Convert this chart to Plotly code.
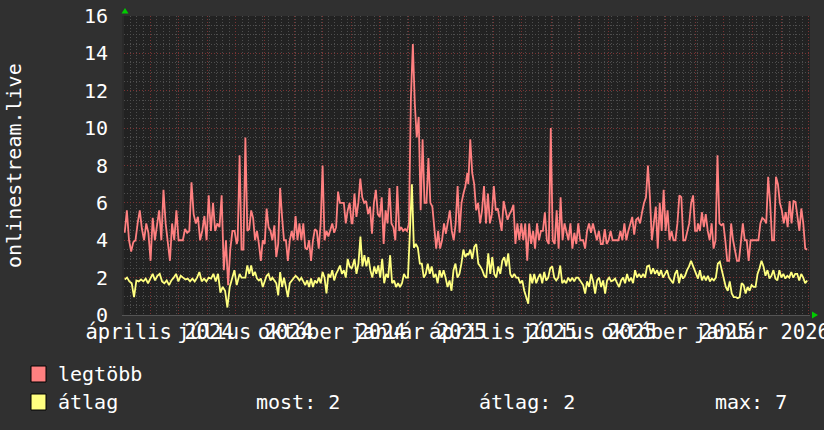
import plotly.graph_objects as go
import pandas as pd

# ---------------- data ----------------
SEGMENT_DATES = [
    ("2024-03-05", "2024-07-02"),
    ("2024-07-03", "2024-11-01"),
    ("2024-11-02", "2025-03-04"),
    ("2025-03-05", "2025-07-04"),
    ("2025-07-05", "2025-11-03"),
    ("2025-11-04", "2026-02-28"),
]

max_1 = [4.4, 5.6, 4.0, 3.4, 3.9, 4.0, 4.9, 5.6, 4.6, 4.0, 4.9, 4.4, 2.9, 5.2, 4.0, 4.7, 5.6, 4.0, 6.7, 4.9,
         3.8, 2.9, 4.9, 4.0, 5.6, 4.0, 4.0, 4.0, 4.6, 4.4, 4.5, 7.1, 5.4, 4.9, 5.25, 4.0, 4.5, 5.3, 4.0, 6.4,
         4.5, 6.0, 4.5, 4.9, 4.7, 6.4, 2.4, 4.0, 1.6, 3.5, 4.5, 4.5, 3.8]
max_2 = [4.0, 8.55, 3.5, 3.5, 9.5, 4.5, 4.6, 5.6, 5.2, 4.0, 4.5, 3.8, 2.9, 4.0, 3.8, 5.7, 4.7, 4.5, 4.0, 4.8,
         3.1, 3.8, 6.8, 5.25, 4.0, 4.0, 2.9, 4.0, 4.5, 4.0, 5.3, 4.0, 4.9, 4.0, 4.9, 3.6, 3.5, 4.0, 2.9, 4.0,
         4.6, 4.5, 3.55, 4.9, 8.0, 4.0, 4.5, 4.2, 4.5, 4.9, 4.4, 4.7, 6.6, 6.0, 6.0, 6.0, 4.9, 5.6, 6.0, 4.9]
max_3 = [4.9, 6.5, 5.25, 6.0, 7.3, 6.3, 6.0, 6.1, 5.4, 5.8, 4.35, 6.0, 6.7, 5.4, 5.25, 6.3, 3.8, 5.6, 4.9, 6.8,
         4.9, 4.7, 4.0, 6.9, 4.5, 4.7, 4.5, 4.6, 4.5, 4.9, 11.6, 14.5, 11.3, 9.5, 10.6, 5.6, 9.4, 6.0, 6.0, 8.4,
         6.0, 5.8, 4.7, 3.55, 4.5, 3.55, 4.0, 4.9, 4.35, 4.9, 5.6, 4.5, 4.0, 4.9, 6.9, 4.4, 6.0, 6.5, 6.9, 7.6]
max_4 = [7.0, 9.4, 7.6, 7.0, 5.6, 6.0, 4.9, 5.6, 6.9, 4.9, 6.5, 4.9, 5.4, 6.9, 5.6, 5.7, 5.1, 4.5, 6.1, 5.5,
         5.1, 5.4, 5.6, 5.9, 3.8, 4.9, 4.0, 4.9, 4.0, 4.9, 2.9, 4.9, 3.8, 4.5, 3.55, 4.9, 4.0, 4.5, 4.5, 5.5,
         4.0, 3.8, 10.0, 4.0, 3.8, 5.6, 3.55, 6.3, 4.0, 4.9, 4.35, 4.0, 4.9, 3.55, 4.4, 3.8, 4.9, 4.0, 4.0]
max_5 = [4.0, 3.55, 4.5, 4.9, 4.4, 4.9, 4.4, 4.0, 4.5, 3.8, 3.8, 4.6, 3.8, 4.0, 4.5, 4.0, 4.0, 4.0, 4.0, 4.5,
         4.0, 4.9, 4.0, 4.5, 4.9, 5.25, 4.3, 5.1, 5.2, 4.9, 5.5, 6.0, 6.3, 8.0, 6.3, 4.0, 4.9, 5.8, 3.55, 6.0,
         4.5, 6.7, 4.5, 5.6, 4.0, 4.5, 4.0, 4.0, 4.9, 6.4, 6.3, 4.0, 4.0, 4.5, 4.9, 6.0, 6.4, 4.5, 4.5]
max_6 = [4.9, 4.5, 5.5, 4.7, 5.4, 4.5, 4.0, 4.9, 3.55, 4.0, 8.55, 4.9, 4.8, 4.9, 4.0, 2.9, 2.9, 4.9, 4.0, 3.5,
         2.9, 2.9, 4.0, 4.9, 4.0, 4.0, 2.9, 4.0, 4.0, 4.0, 4.0, 4.0, 4.9, 5.2, 5.1, 4.9, 7.4, 6.0, 4.0, 4.0,
         7.4, 7.0, 6.0, 5.6, 4.9, 5.5, 4.7, 6.1, 4.9, 6.1, 6.05, 5.4, 4.5, 5.7, 4.9, 3.55, 3.5]

avg_1 = [1.9, 2.0, 1.8, 1.7, 0.96, 1.85, 1.8, 1.9, 1.8, 1.95, 1.7, 2.0, 2.2, 1.85, 2.1, 2.2, 1.8, 1.7, 1.85, 1.6,
         1.85, 2.0, 2.2, 1.8, 2.1, 2.0, 1.9, 1.95, 1.8, 1.95, 1.8, 2.0, 2.3, 1.8, 1.95, 1.8, 2.0, 1.95, 2.2, 1.8,
         2.2, 1.2, 1.5, 1.3, 0.4, 1.5, 2.0, 2.4, 1.6]
avg_2 = [1.85, 2.2, 2.0, 2.0, 2.0, 2.65, 2.2, 2.65, 2.1, 2.3, 1.95, 1.85, 1.95, 1.5, 1.85, 2.1, 2.2, 1.85, 2.0, 1.85,
         1.7, 1.05, 2.3, 1.5, 2.0, 1.5, 0.96, 1.7, 1.85, 2.0, 2.1, 2.0, 1.85, 2.0, 1.8, 1.6, 1.85, 1.5, 1.95, 1.5,
         1.85, 1.7, 2.0, 1.7, 2.3, 2.0, 1.15, 2.2, 2.0, 2.4, 1.85, 2.2, 2.4, 2.65, 2.2, 2.4, 2.0, 3.0, 2.6, 2.5]
avg_3 = [2.6, 3.0, 2.2, 2.75, 4.2, 2.6, 3.2, 2.6, 3.1, 2.4, 2.0, 2.6, 2.2, 2.65, 2.0, 3.0, 1.7, 2.2, 2.0, 3.2,
         1.7, 1.85, 1.5, 1.7, 1.5, 1.7, 2.2, 2.0, 2.0, 4.2, 7.0, 3.6, 3.8, 3.6, 2.75, 2.75, 2.0, 2.2, 2.75, 2.2,
         2.6, 2.0, 2.2, 1.7, 2.4, 2.0, 2.4, 2.0, 1.5, 1.85, 1.3, 2.4, 2.75, 2.0, 2.2, 2.75, 3.5, 3.1, 3.3]
avg_4 = [3.2, 3.5, 3.0, 3.65, 3.8, 2.75, 2.6, 2.4, 2.1, 2.0, 3.3, 2.2, 3.1, 2.2, 2.0, 2.6, 2.2, 2.9, 3.1, 2.6,
         3.3, 2.2, 2.0, 2.2, 2.0, 2.0, 1.7, 1.85, 1.3, 0.96, 0.6, 2.2, 1.7, 2.2, 1.7, 2.0, 2.2, 1.7, 2.3, 1.85,
         2.0, 2.5, 2.6, 2.0, 1.85, 2.0, 2.65, 1.7, 1.85, 1.7, 2.0, 1.8, 2.0, 1.8, 2.0, 2.0, 1.85, 1.7]
avg_5 = [1.6, 1.15, 1.8, 1.5, 2.2, 1.8, 1.15, 1.85, 2.0, 1.5, 1.85, 1.15, 1.85, 2.0, 1.8, 1.85, 1.95, 1.7, 1.5, 1.85,
         2.0, 1.7, 2.2, 1.8, 2.0, 1.7, 2.4, 2.0, 2.2, 2.0, 2.2, 2.0, 2.6, 2.65, 2.2, 2.5, 2.2, 2.4, 2.1, 2.4,
         2.0, 2.2, 2.4, 2.0, 1.85, 1.7, 2.2, 2.4, 1.7, 2.2, 1.95, 2.1, 2.4, 2.6, 2.9, 2.6, 2.4, 2.0]
avg_6 = [1.95, 2.4, 1.85, 2.1, 1.85, 2.1, 1.8, 1.95, 1.85, 2.0, 2.75, 2.85, 2.4, 2.0, 1.5, 1.3, 1.8, 1.15, 0.96, 0.96,
         0.9, 0.96, 1.7, 1.6, 1.15, 1.5, 1.3, 1.6, 1.5, 1.5, 2.2, 2.5, 2.9, 2.6, 2.1, 2.4, 1.95, 2.1, 2.4, 1.95,
         1.85, 2.4, 2.0, 2.2, 1.95, 2.1, 2.0, 2.3, 2.0, 2.2, 2.2, 1.85, 2.2, 2.0, 1.7, 1.85]

MAX_SEGMENTS = [max_1, max_2, max_3, max_4, max_5, max_6]
AVG_SEGMENTS = [avg_1, avg_2, avg_3, avg_4, avg_5, avg_6]

LABEL_DATES = ["2024-04-11", "2024-07-11", "2024-10-11", "2025-01-11",
               "2025-04-11", "2025-07-11", "2025-10-11", "2026-01-11"]
LABEL_TEXT = ["április 2024", "július 2024", "október 2024", "január 2025",
              "április 2025", "július 2025", "október 2025", "január 2026"]
Y_TICKS = [0, 2, 4, 6, 8, 10, 12, 14, 16]

SERIES_NAMES = ["legtöbb", "átlag"]
STATS_LABELS = ["most: 2", "átlag: 2", "max: 7"]
Y_TITLE = "onlinestream.live"

# ---------------- styles ----------------
FONT = "DejaVu Sans Mono"
PAPER_BG = "#303030"
PLOT_BG = "#222222"
RED_LINE = "#ff8080"
YEL_LINE = "#ffff80"
MAJOR_GRID = "#7a3333"
MINOR_GRID = "#4e4e4e"
GRID_DASH = "1px,2px"
X_RANGE = ["2024-03-04 06:00", "2026-03-03"]

W, H = 824, 430
PL, PR, PT, PB = 124, 810, 16, 315


def px(x):
    return (x - PL) / (PR - PL)


def py(y):
    return (PB - y) / (PB - PT)


def expand(segments):
    xs, ys = [], []
    for (a, b), vals in zip(SEGMENT_DATES, segments):
        xs.extend(pd.date_range(a, b, periods=len(vals)))
        ys.extend(vals)
    return xs, ys


mx, my = expand(MAX_SEGMENTS)
ax_, ay = expand(AVG_SEGMENTS)

fig = go.Figure()
fig.add_trace(go.Scatter(x=mx, y=my, mode="lines", line=dict(color=RED_LINE, width=1.8),
                         name=SERIES_NAMES[0], hoverinfo="skip"))
fig.add_trace(go.Scatter(x=ax_, y=ay, mode="lines", line=dict(color=YEL_LINE, width=1.8),
                         name=SERIES_NAMES[1], hoverinfo="skip"))
# carrier for the label axis
fig.add_trace(go.Scatter(x=[LABEL_DATES[0]], y=[None], xaxis="x2", yaxis="y", mode="lines",
                         showlegend=False, hoverinfo="skip"))

fig.update_layout(
    width=W, height=H,
    margin=dict(l=PL, r=W - PR, t=PT, b=H - PB, autoexpand=False),
    paper_bgcolor=PAPER_BG, plot_bgcolor=PLOT_BG,
    showlegend=False, hovermode=False,
    font=dict(family=FONT, color="#ffffff", size=20),
    xaxis=dict(
        type="date", range=X_RANGE, tick0="2024-04-01", dtick="M1",
        showticklabels=False, ticks="", showgrid=True, gridcolor=MAJOR_GRID,
        griddash=GRID_DASH, gridwidth=1, zeroline=False, automargin=False,
        showline=True, linecolor="#555555", linewidth=1,
        minor=dict(tick0="2024-04-01", dtick=7 * 86400000, showgrid=True,
                   gridcolor=MINOR_GRID, griddash=GRID_DASH, gridwidth=1, ticks=""),
    ),
    xaxis2=dict(
        type="date", range=X_RANGE, overlaying="x", matches="x", anchor="y", side="bottom",
        tickmode="array", tickvals=LABEL_DATES, ticktext=LABEL_TEXT, tickangle=0,
        ticks="", showgrid=False, zeroline=False, showline=False, automargin=False,
        ticklabeloverflow="allow",
        tickfont=dict(family=FONT, size=20.5, color="#ffffff"), ticklabelstandoff=2,
    ),
    yaxis=dict(
        range=[0, 16], tickmode="array", tickvals=Y_TICKS, ticks="", automargin=False,
        showgrid=True, gridcolor=MAJOR_GRID, griddash=GRID_DASH, gridwidth=1,
        zeroline=False, showline=True, linecolor="#2a2a2a", linewidth=2,
        tickfont=dict(family=FONT, size=20, color="#ffffff"), ticklabelstandoff=10,
        minor=dict(dtick=0.5, showgrid=True, gridcolor=MINOR_GRID, griddash=GRID_DASH, gridwidth=1),
    ),
)

# y-axis title
fig.add_annotation(text=Y_TITLE, xref="paper", yref="paper", x=px(14), y=py(166),
                   textangle=-90, showarrow=False, xanchor="center", yanchor="middle",
                   font=dict(family=FONT, size=20, color="#ffffff"))

# legend swatches
for y0, col in [(366, RED_LINE), (394, YEL_LINE)]:
    fig.add_shape(type="rect", xref="paper", yref="paper", x0=px(31), x1=px(46),
                  y0=py(y0 + 16), y1=py(y0), fillcolor=col, line=dict(color="#000000", width=1))

legend_texts = [(SERIES_NAMES[0], 56, 374), (SERIES_NAMES[1], 56, 402),
                (STATS_LABELS[0], 254, 402), (STATS_LABELS[1], 477, 402), (STATS_LABELS[2], 713, 402)]
for t, x, y in legend_texts:
    fig.add_annotation(text=t, xref="paper", yref="paper", x=px(x), y=py(y), showarrow=False,
                       xanchor="left", yanchor="middle",
                       font=dict(family=FONT, size=20, color="#ffffff"))

# green axis arrows
def path(points):
    return "M " + " L ".join(f"{px(a)},{py(b)}" for a, b in points) + " Z"

fig.add_shape(type="path", xref="paper", yref="paper", path=path([(125, 8), (121.5, 13.5), (128.5, 13.5)]),
              fillcolor="#00cc00", line=dict(width=0))
fig.add_shape(type="path", xref="paper", yref="paper", path=path([(818, 315), (812, 311.5), (812, 318.5)]),
              fillcolor="#00cc00", line=dict(width=0))

fig.write_html("out.html", config={"displayModeBar": False},
               post_script="document.body.style.margin='0';document.body.style.background='#303030';")
